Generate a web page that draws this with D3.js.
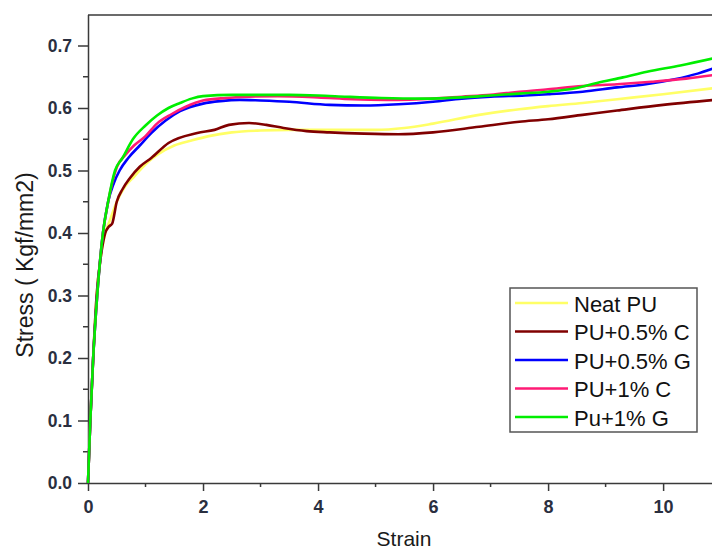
<!DOCTYPE html>
<html>
<head>
<meta charset="utf-8">
<script src="https://cdn.jsdelivr.net/npm/d3@7"></script>
<style>
  body { margin: 0; background: #fff; }
  svg { display: block; font-family: "Liberation Sans", Arial, sans-serif; }
</style>
</head>
<body>
<svg id="chart" width="712" height="551"></svg>
<script>
// strain values, one array per series
const neatStrain = [0, 0.04, 0.09, 0.15, 0.22, 0.3, 0.38, 0.5, 0.65, 0.8, 1.0, 1.2, 1.5, 1.8, 2.1, 2.5, 3.0, 3.5, 4.0, 4.5, 5.0, 5.5, 6.0, 6.8, 7.5, 8.0, 8.6, 9.2, 10.0, 10.9];
const neatStress = [0, 0.1, 0.2, 0.3, 0.36, 0.4, 0.42, 0.45, 0.475, 0.49, 0.51, 0.525, 0.54, 0.548, 0.555, 0.561, 0.564, 0.565, 0.565, 0.565, 0.565, 0.568, 0.575, 0.589, 0.598, 0.603, 0.608, 0.614, 0.622, 0.632];

const cStrain05 = [0, 0.04, 0.09, 0.15, 0.22, 0.3, 0.36, 0.42, 0.5, 0.6, 0.73, 0.9, 1.1, 1.4, 1.9, 2.2, 2.45, 2.8, 3.1, 3.4, 3.8, 4.2, 4.8, 5.4, 6.0, 6.8, 7.5, 8.0, 8.6, 9.2, 10.0, 10.9];
const cStress05 = [0, 0.1, 0.2, 0.3, 0.36, 0.4, 0.41, 0.415, 0.45, 0.47, 0.488, 0.506, 0.52, 0.544, 0.56, 0.565, 0.573, 0.576, 0.573, 0.568, 0.563, 0.561, 0.559, 0.558, 0.561, 0.57, 0.578, 0.582, 0.589, 0.596, 0.605, 0.613];

const gStrain05 = [0, 0.04, 0.09, 0.16, 0.26, 0.35, 0.45, 0.55, 0.7, 0.9, 1.1, 1.35, 1.6, 2.0, 2.3, 2.64, 3.0, 3.5, 4.2, 4.8, 5.4, 6.0, 6.5, 7.0, 7.6, 8.0, 8.6, 9.2, 9.7, 10.2, 10.6, 10.9];
const gStress05 = [0, 0.1, 0.2, 0.3, 0.4, 0.45, 0.48, 0.5, 0.52, 0.54, 0.56, 0.58, 0.595, 0.607, 0.611, 0.613, 0.612, 0.61, 0.605, 0.604, 0.606, 0.61, 0.615, 0.618, 0.62, 0.622, 0.626, 0.633, 0.638, 0.646, 0.655, 0.664];

const cStrain1 = [0, 0.04, 0.09, 0.16, 0.26, 0.33, 0.42, 0.5, 0.65, 0.8, 1.0, 1.2, 1.45, 1.7, 2.0, 2.4, 2.8, 3.3, 4.0, 4.6, 5.2, 6.0, 6.5, 7.0, 7.5, 8.0, 8.6, 9.2, 9.8, 10.4, 10.9];
const cStress1 = [0, 0.1, 0.2, 0.3, 0.4, 0.44, 0.48, 0.505, 0.525, 0.54, 0.555, 0.575, 0.59, 0.602, 0.612, 0.616, 0.618, 0.619, 0.617, 0.614, 0.613, 0.615, 0.618, 0.621, 0.626, 0.63, 0.635, 0.638, 0.642, 0.647, 0.653];

const gStrain1 = [0, 0.04, 0.09, 0.16, 0.26, 0.35, 0.47, 0.6, 0.78, 1.0, 1.2, 1.4, 1.6, 1.8, 2.0, 2.5, 3.0, 3.5, 4.0, 4.5, 5.1, 5.8, 6.5, 7.0, 7.5, 8.0, 8.5, 8.85, 9.3, 9.72, 10.3, 10.9];
const gStress1 = [0, 0.1, 0.2, 0.3, 0.4, 0.45, 0.5, 0.52, 0.55, 0.572, 0.588, 0.6, 0.608, 0.615, 0.619, 0.621, 0.621, 0.621, 0.62, 0.618, 0.616, 0.615, 0.617, 0.62, 0.623, 0.626, 0.632, 0.64, 0.649, 0.658, 0.668, 0.68];

const seriesNames = ["Neat PU", "PU+0.5% C", "PU+0.5% G", "PU+1% C", "Pu+1% G"];
const seriesColors = ["#ffff66", "#800000", "#0000ff", "#ff1a75", "#00ee00"];
const xTicks = [0, 2, 4, 6, 8, 10];
const yTicks = [0.0, 0.1, 0.2, 0.3, 0.4, 0.5, 0.6, 0.7];

const series = [
  [neatStrain, neatStress],
  [cStrain05, cStress05],
  [gStrain05, gStress05],
  [cStrain1, cStress1],
  [gStrain1, gStress1]
].map((s, i) => ({
  name: seriesNames[i],
  color: seriesColors[i],
  points: s[0].map((x, j) => ({ x: x, y: s[1][j] }))
}));

const svg = d3.select("#chart");
const plotLeft = 88, plotTop = 15, plotBottom = 483;

const x = d3.scaleLinear().domain([0, 10.85]).range([plotLeft, 712]);
const y = d3.scaleLinear().domain([0, 0.7]).range([plotBottom, 45.5]);
const axisColor = "#3a3a3a";
const labelColor = "#2a2f3f";

// frame (top line runs off the right edge like the source)
svg.append("line")
  .attr("x1", plotLeft).attr("x2", 720).attr("y1", plotTop).attr("y2", plotTop)
  .attr("stroke", axisColor).attr("stroke-width", 1.5);

// minor ticks
svg.append("g")
  .selectAll("line")
  .data(d3.range(1, 11, 2))
  .join("line")
  .attr("x1", d => x(d)).attr("x2", d => x(d))
  .attr("y1", plotBottom).attr("y2", plotBottom + 4)
  .attr("stroke", axisColor).attr("stroke-width", 1.5);

svg.append("g")
  .selectAll("line")
  .data(d3.range(0.05, 0.75, 0.1))
  .join("line")
  .attr("x1", plotLeft - 5).attr("x2", plotLeft)
  .attr("y1", d => y(d)).attr("y2", d => y(d))
  .attr("stroke", axisColor).attr("stroke-width", 1.5);

const xAxis = svg.append("g")
  .attr("transform", `translate(0,${plotBottom})`)
  .call(d3.axisBottom(x).tickValues(xTicks).tickSize(8).tickPadding(9).tickFormat(d3.format("d")));
xAxis.select(".domain").attr("d", `M${plotLeft},0.5H720`);

const yAxis = svg.append("g")
  .attr("transform", `translate(${plotLeft},0)`)
  .call(d3.axisLeft(y).tickValues(yTicks).tickSize(10).tickPadding(6).tickFormat(d3.format(".1f")));
yAxis.select(".domain").attr("d", `M0.5,${plotBottom}V${plotTop}`);

[xAxis, yAxis].forEach(a => {
  a.select(".domain").attr("stroke", axisColor).attr("stroke-width", 1.5);
  a.selectAll(".tick line").attr("stroke", axisColor).attr("stroke-width", 1.5);
  a.selectAll(".tick text")
    .attr("fill", labelColor)
    .style("font-weight", "bold")
    .style("font-family", "'Liberation Sans', Arial, sans-serif");
});
xAxis.selectAll(".tick text").style("font-size", "18px");
yAxis.selectAll(".tick text").style("font-size", "17.5px");

// curves
const line = d3.line()
  .x(d => x(d.x))
  .y(d => y(d.y))
  .curve(d3.curveMonotoneX);

svg.append("g")
  .selectAll("path")
  .data(series)
  .join("path")
  .attr("d", d => line(d.points))
  .attr("fill", "none")
  .attr("stroke", d => d.color)
  .attr("stroke-width", 2.6)
  .attr("stroke-linejoin", "round");

// axis titles
svg.append("text")
  .attr("x", 404).attr("y", 546)
  .attr("text-anchor", "middle")
  .attr("fill", "#1a1a1a")
  .style("font-size", "21px")
  .text("Strain");

svg.append("text")
  .attr("transform", "translate(33,265) rotate(-90)")
  .attr("text-anchor", "middle")
  .attr("fill", "#1a1a1a")
  .style("font-size", "23px")
  .text("Stress ( Kgf/mm2)");

// legend
const legend = svg.append("g").attr("transform", "translate(510,288)");
legend.append("rect")
  .attr("width", 187).attr("height", 144)
  .attr("fill", "#fff")
  .attr("stroke", "#555").attr("stroke-width", 1.5);

const rows = legend.selectAll("g.row")
  .data(series)
  .join("g")
  .attr("transform", (d, i) => `translate(0,${15 + i * 28.5})`);

rows.append("line")
  .attr("x1", 5).attr("x2", 58)
  .attr("stroke", d => d.color).attr("stroke-width", 2.6);

rows.append("text")
  .attr("x", 64).attr("y", 8.5)
  .attr("fill", "#111")
  .style("font-size", "22px")
  .text(d => d.name);
</script>
</body>
</html>
